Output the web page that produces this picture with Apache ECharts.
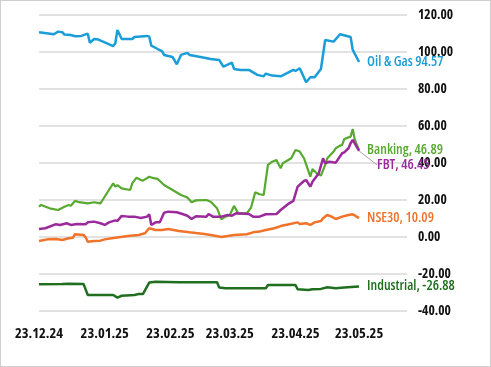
<!DOCTYPE html>
<html><head><meta charset="utf-8">
<script src="https://cdn.jsdelivr.net/npm/echarts@6/dist/echarts.min.js"></script>
<style>
html,body{margin:0;padding:0;background:#fff}
#wrap{position:relative;width:491px;height:367px}
#c{width:491px;height:367px}
#wrap::after{content:"";position:absolute;left:0;top:0;right:0;bottom:0;border:1px solid #cfcfcf;pointer-events:none}
</style>
</head><body><div id="wrap"><div id="c"></div></div><script>
// x positions are days since 23.12.24
const tickDays = [0, 31, 62, 90, 121, 151];
const tickLabels = ['23.12.24', '23.01.25', '23.02.25', '23.03.25', '23.04.25', '23.05.25'];

const oilDays = [0,7,9,11,12,15,17,20,23,24,26,28,31,35,36,37,39,44,45,51,52,53,56,58,59,63,65,67,70,71,75,78,81,85,87,91,92,95,99,103,106,107,110,114,117,120,121,123,126,128,130,133,135,139,142,147,148,151];
const oilVals = [110.7,109.6,111,110.7,109.4,109.2,108.5,108.7,109.9,105,107,106.7,105.2,103.2,104.7,111.9,107,107,108.1,108.7,108.3,103.4,101.6,100.5,98.4,97.3,93.3,98.4,99.5,98.4,97.5,96.9,96.2,95.7,92,94.2,90.8,90.3,90.3,87.6,86.8,88.3,87.2,86.8,88.5,90.3,89.7,91.2,83.6,86.3,86.3,90.8,106.5,105.6,109.6,108.1,101.1,94.57];

const bankDays = [0,1,5,9,12,14,15,17,19,23,26,29,30,33,35,36,37,39,43,44,46,48,49,52,54,56,59,63,67,70,72,74,79,81,84,86,88,90,92,94,98,100,102,104,106,108,110,112,114,115,119,121,123,125,128,129,131,133,135,136,139,140,142,143,144,147,148,149,151];
const bankVals = [16.3,17.2,15.4,14.5,16.3,17.2,16.8,19.4,18.7,18.1,18.7,18.1,19.9,25.3,28.9,27.1,28,26.2,25.3,28.9,32,30.7,30.4,32.5,31.7,31.3,28,25.3,22.6,21.2,18.7,19.7,19.9,19,15.4,9.5,10.9,11.8,16.7,12.7,12.7,15.7,24.1,23,22.6,38.9,40.6,41.6,37.1,39.8,42.5,47,46.1,42.5,32.5,36.7,34.4,33.1,38.9,42.5,46.1,47.9,49.3,49.7,52.9,54.2,58.3,52.4,46.89];

const fbtDays = [0,3,8,10,13,15,18,22,23,26,29,31,33,36,37,39,42,45,48,51,52,53,55,57,59,61,65,68,70,72,74,79,80,82,86,89,91,93,99,101,104,107,112,114,118,120,122,125,126,128,129,132,134,135,137,140,143,144,146,147,148,151];
const fbtVals = [4.2,4.6,6.8,6.4,7.3,6.4,6.9,6.8,7.8,8.2,7.3,6.4,7.8,8.9,8.5,11.3,10.9,10.9,10.2,10.9,12.2,6.4,7.8,7.8,13,13.6,13.3,12.2,11.4,9.6,11.1,10.9,12.3,10.9,10.9,11.8,11.4,12.7,12.3,10.9,10.9,12.2,12.3,14.5,18.1,19.4,27.1,30.2,30.7,27.1,29.8,34.4,42.5,39.8,40.6,40.1,45.2,45.7,47.9,50.6,52.4,46.45];

const nseDays = [0,4,8,11,14,16,17,21,22,23,26,29,31,36,42,47,50,52,55,58,61,66,71,74,78,83,86,89,92,98,101,104,107,111,114,118,122,123,126,128,130,133,134,136,138,140,143,146,148,151];
const nseVals = [-2.3,-1.4,-1.2,-1.7,-0.8,-0.5,1.4,1.0,-0.3,-2.7,-2.3,-2.1,-1.4,-0.5,0.4,1.0,1.9,4.6,3.7,3.7,4.2,3.1,2.4,2.0,1.5,0.6,-0.1,0.4,1.0,1.4,2.4,2.8,3.7,4.6,5.8,6.8,7.8,6.9,7.3,6.4,7.8,8.5,10.0,11.8,10.9,9.6,10.9,11.8,12.2,10.09];

const indDays = [0,11,14,21,23,35,37,39,45,47,49,52,55,66,84,85,88,107,108,121,122,127,129,133,136,140,144,149,151];
const indVals = [-25.7,-25.5,-25.4,-25.5,-31.5,-31.5,-32.9,-31.9,-31.5,-31.0,-31.0,-24.8,-24.3,-24.6,-24.6,-27.5,-27.9,-27.9,-26.1,-26.1,-28.4,-28.8,-28.4,-28.2,-27.3,-27.9,-27.5,-27.0,-26.88];

const FONT = "'Open Sans'";
const STRETCH = 'condensed';
const pairs = (d, v) => d.map((x, i) => [x, v[i]]);

function endLabelCfg(color, sep) {
  return {
    show: true, distance: 8, color: color, fontFamily: FONT, fontStyle: STRETCH,
    fontSize: 14, fontWeight: 600,
    formatter: p => p.seriesName + sep + p.value[1].toFixed(2)
  };
}
function lineSeries(name, d, v, color, width, sep) {
  return {
    name: name, type: 'line', data: pairs(d, v), showSymbol: false, symbol: 'none',
    lineStyle: { color: color, width: width }, itemStyle: { color: color },
    endLabel: endLabelCfg(color, sep), z: 2, silent: true
  };
}

const fbtData = pairs(fbtDays, fbtVals).map((p, i, a) => i === a.length - 1
  ? { value: p, label: { show: true } } : p);

const chart = echarts.init(document.getElementById('c'), null, { renderer: 'canvas' });
chart.setOption({
  animation: false,
  backgroundColor: '#ffffff',
  grid: { left: 39, right: 84, top: 15, bottom: 56.3, containLabel: false },
  xAxis: {
    type: 'value', min: 0, max: 173.6,
    axisLine: { show: false }, axisTick: { show: false }, splitLine: { show: false },
    axisLabel: {
      customValues: tickDays, margin: 16,
      formatter: v => tickLabels[tickDays.indexOf(v)] || '',
      color: '#111', fontWeight: 'bold', fontSize: 14.5, fontFamily: FONT, fontStyle: STRETCH
    }
  },
  yAxis: {
    type: 'value', position: 'right', min: -40, max: 120, interval: 20,
    axisLine: { show: false }, axisTick: { show: false },
    splitLine: { show: true, lineStyle: { color: '#d9d9d9', width: 1.5 } },
    axisLabel: {
      margin: 11, color: '#111', fontWeight: 'bold', fontSize: 13.5, fontFamily: FONT, fontStyle: STRETCH,
      formatter: v => v.toFixed(2)
    }
  },
  series: [
    lineSeries('Oil & Gas', oilDays, oilVals, '#1b9dd9', 2.5, ' '),
    lineSeries('Industrial', indDays, indVals, '#1f6f1f', 2.5, ', '),
    lineSeries('NSE30', nseDays, nseVals, '#f07329', 2.5, ', '),
    {
      name: 'FBT', type: 'line', data: fbtData, showSymbol: true, symbol: 'circle', symbolSize: 0,
      lineStyle: { color: '#9b2a9b', width: 2.5 }, itemStyle: { color: '#9b2a9b' },
      label: {
        show: false, position: 'right', distance: 3, color: '#9b2a9b',
        fontFamily: FONT, fontStyle: STRETCH, fontSize: 14, fontWeight: 600,
        formatter: p => p.seriesName + ', ' + p.value[1].toFixed(2)
      },
      labelLayout: { dx: 15, dy: 14 },
      labelLine: { show: true, lineStyle: { color: '#a6a6a6', width: 1 } },
      z: 3, silent: true
    },
    lineSeries('Banking', bankDays, bankVals, '#57a92f', 2.2, ', ')
  ]
});
</script></body></html>
